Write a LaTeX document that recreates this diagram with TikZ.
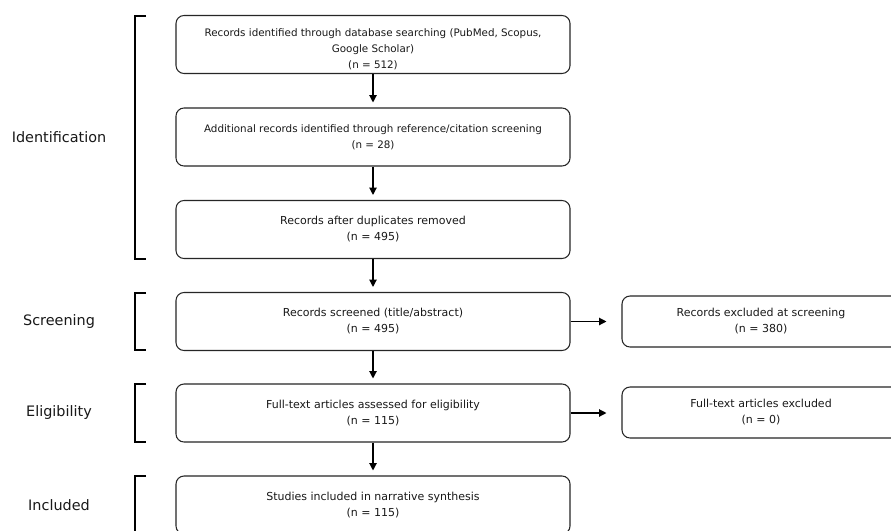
\documentclass[tikz,border=0pt]{standalone}
\usepackage{fontspec}
\setmainfont{DejaVu Sans}
\usetikzlibrary{arrows.meta}
\begin{document}
\begin{tikzpicture}[x=0.75pt,y=-0.75pt,
  box/.style={draw=black!85, line width=0.8pt, rounded corners=6pt, minimum width=295.5pt, minimum height=43.5pt, inner sep=0pt, align=center, font=\fontsize{8.25pt}{12pt}\selectfont, text=black!90},
  rbox/.style={box, minimum width=208.5pt, minimum height=38.25pt},
  small/.style={font=\fontsize{7.75pt}{11.9pt}\selectfont},
  txt/.style={align=center, inner sep=0pt, text=black!90},
  lab/.style={font=\fontsize{10.8pt}{13pt}\selectfont, text=black!90},
  arr/.style={-{Triangle[length=5.5pt,width=5.5pt]}, line width=0.9pt},
  brk/.style={line width=1.4pt}]
\clip (0,0) rectangle (891,531);
\fill[white] (0,0) rectangle (891,531);
% main boxes
\node[box] (b1) at (373,44.5) {};
\node[txt, small] (t1) at (373,49.5) {Records identified through database searching (PubMed, Scopus,\\Google Scholar)\\(n = 512)};
\node[box, small] (b2) at (373,137) {Additional records identified through reference/citation screening\\(n = 28)};
\node[box] (b3) at (373,229.5) {Records after duplicates removed\\(n = 495)};
\node[box] (b4) at (373,321.5) {Records screened (title/abstract)\\(n = 495)};
\node[box] (b5) at (373,413) {Full-text articles assessed for eligibility\\(n = 115)};
\node[box] (b6) at (373,505) {Studies included in narrative synthesis\\(n = 115)};
% exclusion boxes
\node[rbox] (r1) at (761,321.5) {Records excluded at screening\\(n = 380)};
\node[rbox] (r2) at (761,412.5) {Full-text articles excluded\\(n = 0)};
% arrows
\draw[arr, shorten >=3.75pt] (b1) -- (b2);
\draw[arr, shorten >=3.75pt] (b2) -- (b3);
\draw[arr, shorten >=3.75pt] (b3) -- (b4);
\draw[arr, shorten >=3.75pt] (b4) -- (b5);
\draw[arr, shorten >=3.75pt] (b5) -- (b6);
\draw[arr, shorten >=11.25pt] (b4.east) -- (b4.east -| r1.west);
\draw[arr, shorten >=11.25pt] (b5.east) -- (b5.east -| r2.west);
% brackets
\draw[brk] (146,16) -- (135,16) -- (135,259) -- (146,259);
\draw[brk] (146,293) -- (135,293) -- (135,350) -- (146,350);
\draw[brk] (146,384) -- (135,384) -- (135,442) -- (146,442);
\draw[brk] (146,476) -- (135,476) -- (135,545);
% stage labels
\node[lab] (l1) at (59,137.5) {Identification};
\node[lab] (l2) at (59,321.5) {Screening};
\node[lab] (l3) at (59,413) {Eligibility};
\node[lab] (l4) at (59,505) {Included};
\end{tikzpicture}
\end{document}
